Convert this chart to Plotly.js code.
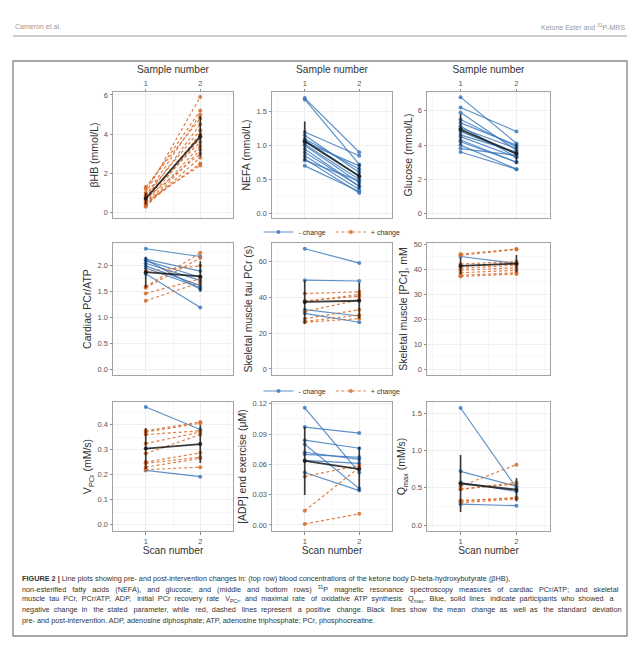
<!DOCTYPE html>
<html>
<head>
<meta charset="utf-8">
<script src="https://cdn.plot.ly/plotly-3.0.1.min.js"></script>
<style>
  html, body { margin: 0; padding: 0; background: #fff; }
  #fig { width: 640px; height: 654px; }
</style>
</head>
<body>
<div id="fig"></div>
<script>
// Sample / scan number on the x axis
const visits = [1, 2];
const visitLabels = ["1", "2"];

// Top row: blood concentrations (pre, post) per participant
const bhbPre = [1.30, 1.20, 1.00, 0.90, 0.85, 0.80, 0.75, 0.70, 0.60, 0.55, 0.50, 0.45, 0.40, 0.35, 0.30];
const bhbPost = [4.80, 5.20, 5.90, 4.20, 5.00, 3.60, 4.50, 3.00, 4.00, 2.40, 3.80, 2.50, 3.40, 2.80, 3.20];
const nefaPre = [1.70, 1.68, 1.20, 1.15, 1.10, 1.08, 1.02, 1.00, 0.95, 0.90, 0.85, 0.80, 0.78, 0.70, 1.05];
const nefaPost = [0.90, 0.72, 0.85, 0.60, 0.65, 0.55, 0.50, 0.45, 0.40, 0.40, 0.35, 0.30, 0.48, 0.32, 0.70];
const glucosePre = [6.80, 6.20, 5.90, 5.50, 5.30, 5.10, 5.00, 4.80, 4.50, 4.30, 4.20, 4.00, 3.80, 3.60, 4.60];
const glucosePost = [4.10, 4.80, 3.70, 3.90, 4.00, 3.30, 3.80, 3.50, 3.30, 3.00, 3.00, 2.60, 3.40, 2.60, 3.60];

// Middle row: 31P-MRS
const cardiacPre = [2.33, 2.13, 2.10, 2.05, 2.00, 1.96, 1.85, 2.12, 1.33, 1.47, 1.58, 1.60, 1.90];
const cardiacPost = [2.18, 1.90, 1.78, 1.72, 1.62, 1.58, 1.20, 1.55, 1.68, 1.75, 2.15, 2.25, 2.00];
const tauPre = [67.0, 49.5, 33.0, 31.0, 42.0, 38.0, 37.5, 32.0, 28.0, 26.5, 26.0];
const tauPost = [59.0, 49.0, 29.5, 26.0, 43.0, 40.5, 41.5, 38.5, 33.0, 30.0, 28.0];
const pcrPre = [45.0, 46.0, 45.5, 42.0, 41.2, 40.3, 39.5, 38.5, 37.5, 37.0];
const pcrPost = [42.2, 48.0, 47.8, 43.0, 42.3, 41.5, 40.5, 39.5, 38.5, 38.0];

// Bottom row: 31P-MRS
const vpcrPre = [0.470, 0.217, 0.375, 0.370, 0.360, 0.324, 0.284, 0.250, 0.245, 0.230, 0.220];
const vpcrPost = [0.380, 0.192, 0.410, 0.405, 0.375, 0.370, 0.360, 0.287, 0.270, 0.265, 0.230];
const adpPre = [0.116, 0.097, 0.084, 0.080, 0.070, 0.064, 0.072, 0.052, 0.048, 0.014, 0.001];
const adpPost = [0.052, 0.091, 0.076, 0.036, 0.067, 0.061, 0.065, 0.034, 0.059, 0.057, 0.011];
const qmaxPre = [1.57, 0.72, 0.28, 0.57, 0.52, 0.48, 0.48, 0.32, 0.30, 0.33];
const qmaxPost = [0.50, 0.52, 0.26, 0.45, 0.81, 0.57, 0.55, 0.37, 0.35, 0.36];

// y tick values for each panel
const bhbTicks = [0, 2, 4, 6];
const nefaTicks = [0, 0.5, 1.0, 1.5];
const glucoseTicks = [0, 2, 4, 6];
const cardiacTicks = [0, 0.5, 1.0, 1.5, 2.0];
const tauTicks = [0, 20, 40, 60];
const pcrTicks = [0, 10, 20, 30, 40, 50];
const vpcrTicks = [0, 0.1, 0.2, 0.3, 0.4];
const adpTicks = [0, 0.03, 0.06, 0.09, 0.12];
const qmaxTicks = [0, 0.5, 1.0, 1.5];

const W = 640, H = 654;
const px = (x) => x / W;
const py = (y) => 1 - y / H;

const BLUE = "rgba(52,118,186,0.8)";
const ORANGE = "rgba(214,106,40,0.85)";
const MEAN = "rgba(25,25,25,0.85)";
const FONT = "Liberation Sans, Arial, sans-serif";
const CAPTION_SIZE = 7.3;

const colPx = [[113, 233], [272, 392], [427, 550]];
const rowPx = [[92, 218], [243, 375], [402, 531]];

const panels = [
  { pre: bhbPre, post: bhbPost, title: "βHB (mmol/L)", ticks: bhbTicks, fmt: "d", range: [-0.28, 6.15] },
  { pre: nefaPre, post: nefaPost, title: "NEFA (mmol/L)", ticks: nefaTicks, fmt: ".1f", range: [-0.07, 1.79] },
  { pre: glucosePre, post: glucosePost, title: "Glucose (mmol/L)", ticks: glucoseTicks, fmt: "d", range: [-0.25, 7.1] },
  { pre: cardiacPre, post: cardiacPost, title: "Cardiac PCr/ATP", ticks: cardiacTicks, fmt: ".1f", range: [-0.1, 2.44] },
  { pre: tauPre, post: tauPost, title: "Skeletal muscle tau PCr (s)", ticks: tauTicks, fmt: "d", range: [-3.4, 70.2] },
  { pre: pcrPre, post: pcrPost, title: "Skeletal muscle [PCr], mM", ticks: pcrTicks, fmt: "d", range: [-2.4, 50.4] },
  { pre: vpcrPre, post: vpcrPost, title: "V<sub>PCr</sub> (mM/s)", ticks: vpcrTicks, fmt: ".1f", range: [-0.025, 0.49] },
  { pre: adpPre, post: adpPost, title: "[ADP] end exercise (μM)", ticks: adpTicks, fmt: ".2f", range: [-0.006, 0.1218] },
  { pre: qmaxPre, post: qmaxPost, title: "Q<sub>max</sub> (mM/s)", ticks: qmaxTicks, fmt: ".1f", range: [-0.08, 1.65] },
];

const mean = (a) => a.reduce((s, v) => s + v, 0) / a.length;
const sd = (a) => {
  const m = mean(a);
  return Math.sqrt(a.reduce((s, v) => s + (v - m) * (v - m), 0) / (a.length - 1));
};

const traces = [];
const layout = {
  width: W,
  height: H,
  margin: { l: 0, r: 0, t: 0, b: 0 },
  paper_bgcolor: "#fff",
  plot_bgcolor: "#fff",
  font: { family: FONT, color: "#4d4d4d", size: 7 },
  showlegend: true,
  annotations: [],
  shapes: [],
};

// legend slots: panel index that supplies the blue / orange entry
const legendPicks = { legend: [1, 0], legend2: [4, 4] };
const picked = {};

panels.forEach((p, i) => {
  const n = i + 1;
  const sfx = n === 1 ? "" : String(n);
  const col = i % 3;
  const row = Math.floor(i / 3);
  const xa = "x" + sfx, ya = "y" + sfx;

  for (let j = 0; j < p.pre.length; j++) {
    const up = p.post[j] > p.pre[j];
    const color = up ? ORANGE : BLUE;
    const t = {
      type: "scatter",
      x: visits,
      y: [p.pre[j], p.post[j]],
      xaxis: xa,
      yaxis: ya,
      mode: "lines+markers",
      line: { color: color, width: 1.2, dash: up ? "3px,2.5px" : "solid" },
      marker: { color: color, size: 4 },
      hoverinfo: "skip",
      showlegend: false,
    };
    for (const [lg, pick] of Object.entries(legendPicks)) {
      const key = lg + (up ? "+" : "-");
      if (!picked[key] && pick[up ? 1 : 0] === i) {
        picked[key] = true;
        t.showlegend = true;
        t.legend = lg;
        t.name = up ? "+ change" : "- change";
        t.legendrank = up ? 2 : 1;
      }
    }
    traces.push(t);
  }

  traces.push({
    type: "scatter",
    x: visits,
    y: [mean(p.pre), mean(p.post)],
    xaxis: xa,
    yaxis: ya,
    mode: "lines+markers",
    line: { color: MEAN, width: 1.8 },
    marker: { color: MEAN, size: 4 },
    error_y: { type: "data", array: [sd(p.pre), sd(p.post)], width: 0, thickness: 1.7, color: MEAN },
    hoverinfo: "skip",
    showlegend: false,
  });

  const step = p.ticks[1] - p.ticks[0];
  const common = {
    showline: true,
    mirror: true,
    linecolor: "#a3a3a3",
    linewidth: 1,
    showgrid: true,
    gridcolor: "#ebebeb",
    gridwidth: 0.8,
    zeroline: false,
    ticks: "outside",
    ticklen: 2.5,
    tickcolor: "#8a8a8a",
    tickfont: { family: FONT, size: 7.5, color: "#555" },
    fixedrange: true,
  };

  const xaxis = Object.assign({}, common, {
    domain: [px(colPx[col][0]), px(colPx[col][1])],
    anchor: ya,
    range: [0.4, 2.6],
    tickmode: "array",
    tickvals: visits,
    ticktext: visitLabels,
    minor: { showgrid: true, gridcolor: "#f5f5f5", tick0: 0.5, dtick: 0.5, ticks: "" },
    side: row === 0 ? "top" : "bottom",
    showticklabels: row !== 1,
    ticks: row === 1 ? "" : "outside",
  });
  if (row !== 1) {
    xaxis.title = {
      text: row === 0 ? "Sample number" : "Scan number",
      font: { family: FONT, size: 10.2, color: "#333" },
      standoff: 2,
    };
  }
  layout["xaxis" + sfx] = xaxis;

  layout["yaxis" + sfx] = Object.assign({}, common, {
    domain: [py(rowPx[row][1]), py(rowPx[row][0])],
    anchor: xa,
    range: p.range,
    tickmode: "linear",
    tick0: 0,
    dtick: step,
    tickformat: p.fmt,
    minor: { showgrid: true, gridcolor: "#f5f5f5", tick0: step / 2, dtick: step, ticks: "" },
    title: { text: p.title, font: { family: FONT, size: 10.5, color: "#333" }, standoff: 3 },
  });
});

const legendStyle = {
  orientation: "h",
  xanchor: "center",
  yanchor: "middle",
  x: px(332),
  bgcolor: "rgba(0,0,0,0)",
  font: { family: FONT, size: 7, color: "#333" },
  itemwidth: 30,
  tracegroupgap: 0,
};
layout.legend = Object.assign({}, legendStyle, { y: py(232) });
layout.legend2 = Object.assign({}, legendStyle, { y: py(391) });

// page header
layout.annotations.push(
  { xref: "paper", yref: "paper", x: px(13), y: py(27), xanchor: "left", yanchor: "middle",
    text: "Cameron et al.", showarrow: false, font: { family: FONT, size: 7, color: "#999" } },
  { xref: "paper", yref: "paper", x: px(627), y: py(27), xanchor: "right", yanchor: "middle",
    text: "Ketone Ester and <sup>31</sup>P-MRS", showarrow: false, font: { family: FONT, size: 7, color: "#999" } }
);
layout.shapes.push(
  { type: "line", xref: "paper", yref: "paper", x0: px(13), x1: px(627), y0: py(36), y1: py(36),
    line: { color: "#9a9a9a", width: 1 } },
  { type: "rect", xref: "paper", yref: "paper", x0: px(13), x1: px(627), y0: py(61), y1: py(636),
    line: { color: "#8a8a8a", width: 1.4 }, fillcolor: "rgba(0,0,0,0)" }
);

// caption (the middle lines are justified to the full text width)
const captionLines = [
  "<b>FIGURE 2 |</b> Line plots showing pre- and post-intervention changes in: (top row) blood concentrations of the ketone body D-beta-hydroxybutyrate (βHB),",
  "non-esterified fatty acids (NEFA), and glucose; and (middle and bottom rows) <sup>31</sup>P magnetic resonance spectroscopy measures of cardiac PCr/ATP; and skeletal",
  "muscle tau PCr, PCr/ATP, ADP, initial PCr recovery rate V<sub>PCr</sub>, and maximal rate of oxidative ATP synthesis Q<sub>max</sub>. Blue, solid lines indicate participants who showed a",
  "negative change in the stated parameter, while red, dashed lines represent a positive change. Black lines show the mean change as well as the standard deviation",
  "pre- and post-intervention. ADP, adenosine diphosphate; ATP, adenosine triphosphate; PCr, phosphocreatine.",
];
const justifyLine = [false, true, true, true, false];

const ctx = document.createElement("canvas").getContext("2d");
ctx.font = CAPTION_SIZE + "px 'Liberation Sans'";
const plain = (s) => s.replace(/<[^>]+>/g, "");

function justify(line, width) {
  const words = line.split(" ");
  const gaps = words.length - 1;
  const natural = ctx.measureText(plain(line)).width;
  const nb = ctx.measureText("\u00a0").width;
  const extra = Math.floor((width - natural) / nb);
  if (extra <= 0 || gaps <= 0) return line;
  let out = words[0];
  for (let g = 0; g < gaps; g++) {
    const k = Math.floor((extra * (g + 1)) / gaps) - Math.floor((extra * g) / gaps);
    out += " " + "\u00a0".repeat(k) + words[g + 1];
  }
  return out;
}

captionLines.forEach((line, k) => {
  layout.annotations.push({
    xref: "paper", yref: "paper", x: px(20), y: py(578 + k * 10.6),
    xanchor: "left", yanchor: "middle", align: "left",
    text: justifyLine[k] ? justify(line, 600) : line,
    showarrow: false,
    font: { family: FONT, size: CAPTION_SIZE, color: "#333" },
  });
});

Plotly.newPlot("fig", traces, layout, { displayModeBar: false, staticPlot: true });
</script>
</body>
</html>
